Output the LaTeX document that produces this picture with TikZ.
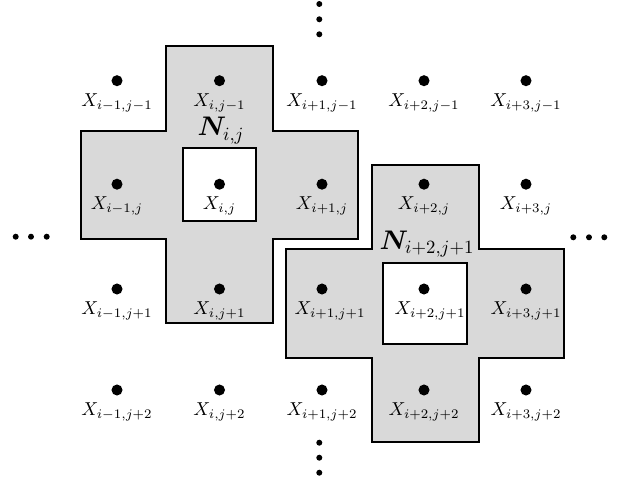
\documentclass[tikz,border=0pt]{standalone}
\usepackage{amsmath,bm}
\begin{document}
\begin{tikzpicture}[x=0.535pt,y=-0.535pt,
  gp/.style={circle,fill=black,inner sep=0pt,minimum size=5.9pt},
  ed/.style={circle,fill=black,inner sep=0pt,minimum size=3.2pt},
  lab/.style={anchor=base,inner sep=0pt},
  nlab/.style={anchor=base,inner sep=0pt,font=\Large},
  crossfill/.style={draw=black,line width=1.1pt,fill=black!15},
  hole/.style={draw=black,line width=1.1pt,fill=white}]
\useasboundingbox (0,0) rectangle (625,483);
% neighbourhood N_{i,j}
\draw[crossfill] (166,45.7) -- (273,45.7) -- (273,130.7) -- (358,130.7) -- (358,239)
  -- (273,239) -- (273,323) -- (166,323) -- (166,239) -- (80.7,239) -- (80.7,130.7)
  -- (166,130.7) -- cycle;
\draw[hole] (183,148) rectangle (256,221);
% neighbourhood N_{i+2,j+1}
\draw[crossfill] (372,165) -- (479,165) -- (479,249.3) -- (564,249.3) -- (564,357.7)
  -- (479,357.7) -- (479,442) -- (372,442) -- (372,357.7) -- (286,357.7) -- (286,249.3)
  -- (372,249.3) -- cycle;
\draw[hole] (382.7,263.3) rectangle (467.3,344);
% grid points
\foreach \c/\x/\ci in {1/117/i-1, 2/219.5/i, 3/322/i+1, 4/424/i+2, 5/526/i+3}{
  \foreach \r/\y/\rj in {1/80.7/j-1, 2/184.2/j, 3/289/j+1, 4/390/j+2}{
    \node[gp] (p\c\r) at (\x,\y) {};
    \pgfmathsetmacro{\dx}{(\c==3 && \r==3) ? 8 : ((\c==4 && \r==3) ? 6 : 0)}
    \node[lab] (l\c\r) at (\x+\dx,\y+25.5) {$X_{\ci,\rj}$};
  }
}
\node[nlab] (n1) at (221,136) {$\boldsymbol{N}_{i,j}$};
\node[nlab] (n2) at (427,249) {$\boldsymbol{N}_{i+2,j+1}$};
% ellipses
\foreach \k/\yy in {1/4, 2/19.3, 3/34.3}{\node[ed] (t\k) at (319.3,\yy) {};}
\foreach \k/\yy in {1/442.7, 2/457.7, 3/472.7}{\node[ed] (b\k) at (319.3,\yy) {};}
\foreach \k/\xx in {1/15.7, 2/31, 3/46.7}{\node[ed] (le\k) at (\xx,236.7) {};}
\foreach \k/\xx in {1/573.3, 2/589, 3/604.3}{\node[ed] (ri\k) at (\xx,237.3) {};}
\end{tikzpicture}
\end{document}
